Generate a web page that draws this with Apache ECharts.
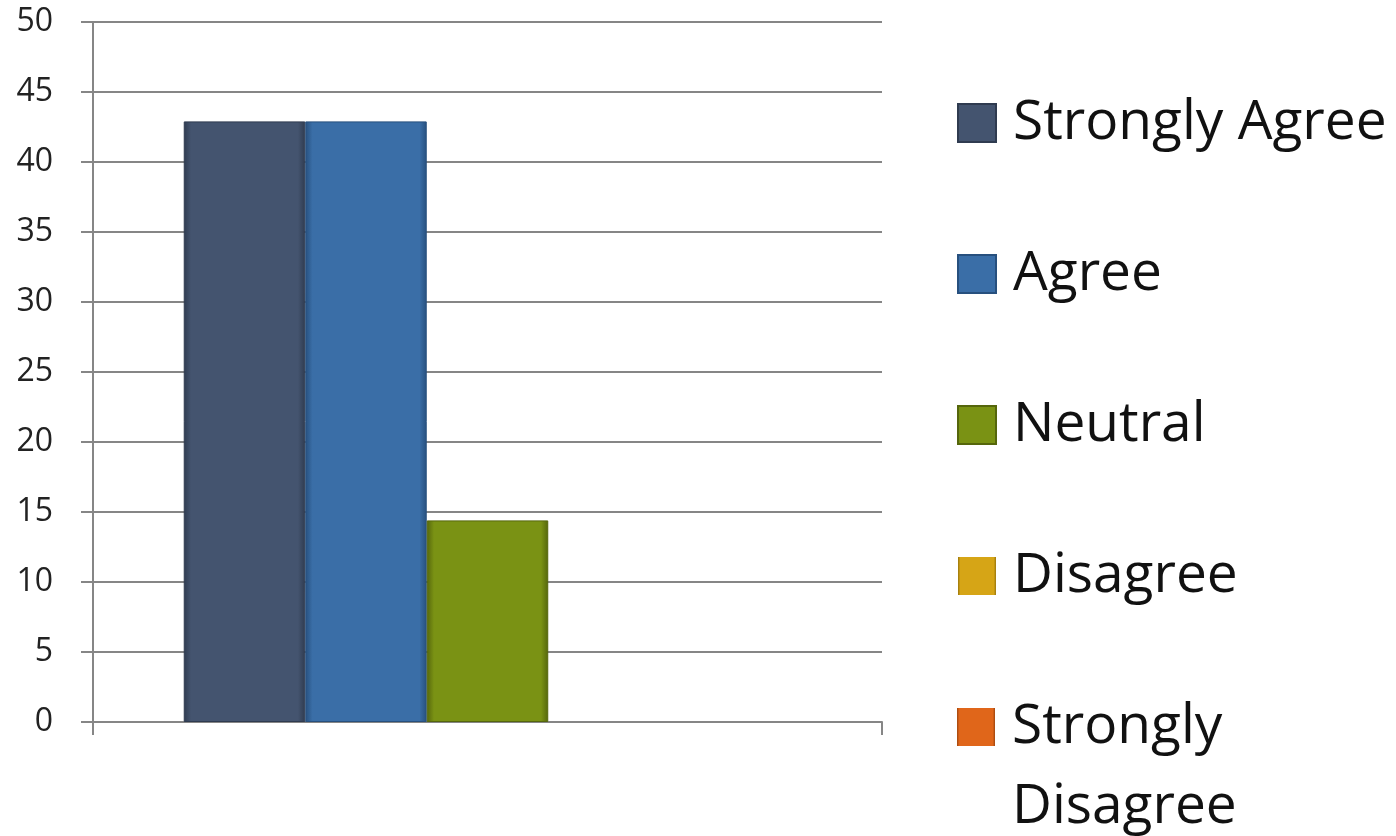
<!DOCTYPE html>
<html>
<head>
<meta charset="utf-8">
<script src="https://cdn.jsdelivr.net/npm/echarts@6/dist/echarts.min.js"></script>
<style>html,body{margin:0;padding:0;background:#fff;}#c{width:1396px;height:836px;}</style>
</head>
<body>
<div id="c"></div>
<script>
var categories = ['Response'];
var seriesNames = ['Strongly Agree', 'Agree', 'Neutral', 'Disagree', 'Strongly Disagree'];
var seriesValues = [42.9, 42.9, 14.4, 0, 0];
var yTicks = { min: 0, max: 50, interval: 5 };
var colors = ['#44546f', '#3a6ea7', '#7a9214', '#d6a516', '#e0661a'];
var darkColors = ['#2f3b50', '#27507e', '#55660c', '#9a760c', '#a0460e'];

var chart = echarts.init(document.getElementById('c'));
var series = seriesNames.map(function (n, i) {
  return {
    name: n,
    type: 'bar',
    barGap: '0%',
    barCategoryGap: '23%',
    data: [seriesValues[i]],
    itemStyle: {
      color: new echarts.graphic.LinearGradient(0, 0, 1, 0, [
        { offset: 0, color: darkColors[i] },
        { offset: 0.06, color: colors[i] },
        { offset: 0.94, color: colors[i] },
        { offset: 1, color: darkColors[i] }
      ]),
      borderColor: darkColors[i],
      borderWidth: seriesValues[i] > 0 ? 1 : 0
    }
  };
});

var legendText = { fontFamily: 'Open Sans', fontSize: 55, color: '#111', lineHeight: 80, padding: [0, 0, 0, 12] };
chart.setOption({
  animation: false,
  color: colors,
  grid: { left: 93, right: 514, top: 22, bottom: 114 },
  legend: [{
    data: seriesNames.slice(0, 4),
    orient: 'vertical',
    left: 952,
    top: 78,
    itemWidth: 38,
    itemHeight: 38,
    itemGap: 71,
    icon: 'rect',
    textStyle: legendText,
    selectedMode: false
  }, {
    data: [seriesNames[4]],
    orient: 'vertical',
    left: 952,
    top: 602,
    itemWidth: 38,
    itemHeight: 38,
    icon: 'rect',
    formatter: function () { return ' \nStrongly\nDisagree'; },
    textStyle: legendText,
    selectedMode: false
  }],
  xAxis: {
    type: 'category',
    data: categories,
    axisLine: { lineStyle: { color: '#868686', width: 2 } },
    axisTick: { show: true, length: 13, lineStyle: { color: '#868686', width: 2 } },
    axisLabel: { show: false }
  },
  yAxis: {
    type: 'value',
    min: yTicks.min,
    max: yTicks.max,
    interval: yTicks.interval,
    axisLine: { show: true, lineStyle: { color: '#868686', width: 2 } },
    axisTick: { show: true, length: 12, lineStyle: { color: '#868686', width: 2 } },
    splitLine: { lineStyle: { color: '#868686', width: 2 } },
    axisLabel: { fontFamily: 'Open Sans', fontSize: 32, color: '#222', margin: 40 }
  },
  series: series
});
</script>
</body>
</html>
